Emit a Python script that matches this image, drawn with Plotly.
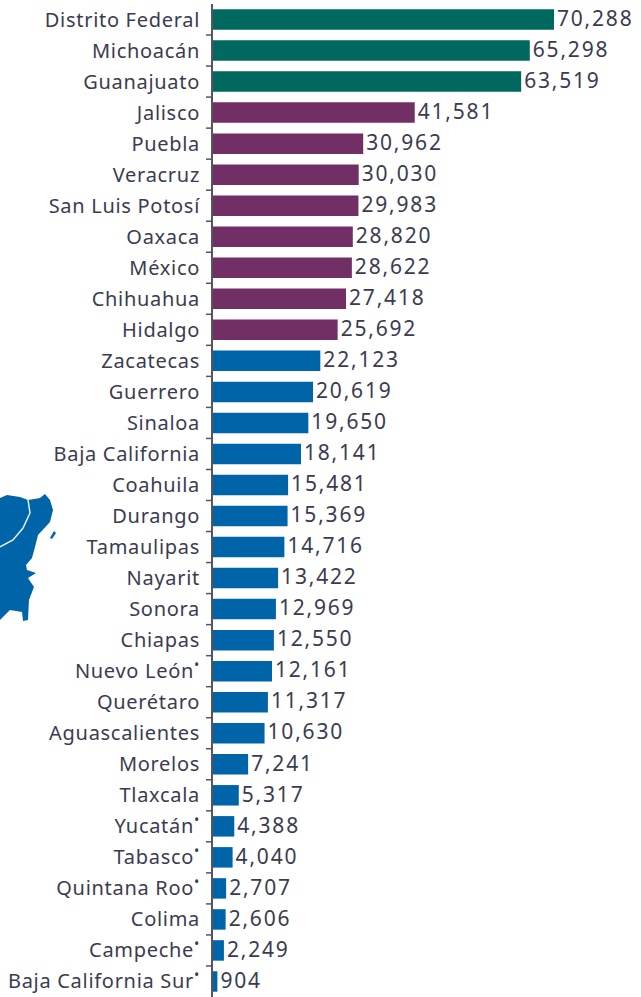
import plotly.graph_objects as go

W, H = 641, 997

states = ["Distrito Federal", "Michoacán", "Guanajuato", "Jalisco", "Puebla", "Veracruz",
          "San Luis Potosí", "Oaxaca", "México", "Chihuahua", "Hidalgo", "Zacatecas",
          "Guerrero", "Sinaloa", "Baja California", "Coahuila", "Durango", "Tamaulipas",
          "Nayarit", "Sonora", "Chiapas", "Nuevo León<sup>•</sup>", "Querétaro",
          "Aguascalientes", "Morelos", "Tlaxcala", "Yucatán<sup>•</sup>", "Tabasco<sup>•</sup>",
          "Quintana Roo<sup>•</sup>", "Colima", "Campeche<sup>•</sup>", "Baja California Sur<sup>•</sup>"]
values = [70288, 65298, 63519, 41581, 30962, 30030, 29983, 28820, 28622, 27418, 25692,
          22123, 20619, 19650, 18141, 15481, 15369, 14716, 13422, 12969, 12550, 12161,
          11317, 10630, 7241, 5317, 4388, 4040, 2707, 2606, 2249, 904]
GREEN, PURPLE, BLUE = "#00695f", "#722f66", "#0065a8"
colors = [GREEN] * 3 + [PURPLE] * 8 + [BLUE] * 21
rows = list(range(len(states)))
row_edges = [r + 0.5 for r in rows[:-1]]

TEXT = "#3b3b4f"
AXIS = "#55555f"

# decorative map fragment (pixel outline of the peninsula at the left edge)
map_outline = [(0, 498), (7, 495), (20, 497), (28, 500), (40, 498), (45, 494), (50, 500),
               (53, 510), (50, 522), (38, 535), (35, 547), (32, 558), (26, 565), (27, 570),
               (36, 573), (28, 578), (34, 587), (29, 600), (28, 620), (23, 621), (22, 612),
               (10, 610), (0, 620)]
map_island = [(50, 538), (54, 531), (56, 533), (52, 539)]
map_border = [(28, 500), (30, 513), (23, 528), (13, 540), (0, 547)]


def path(points, close=True):
    d = "M" + " L".join(f"{x / W:.4f},{1 - y / H:.4f}" for x, y in points)
    return d + (" Z" if close else "")


# tick marks between the rows, placed on the row axis
row_ticks = [
    dict(type="line", xref="paper", yref="y", x0=206 / W, x1=212 / W, y0=e, y1=e,
         line=dict(color=AXIS, width=1.5))
    for e in row_edges
]

fig = go.Figure()
fig.add_bar(
    x=values, y=rows, orientation="h", width=0.66,
    marker=dict(color=colors, line=dict(width=0)),
)
fig.add_scatter(
    x=values, y=rows, mode="text", text=[f"{v:,}" for v in values],
    textposition="middle right", cliponaxis=False, hoverinfo="skip",
    textfont=dict(family="Noto Sans", size=21, color=TEXT),
)

fig.update_layout(
    width=W, height=H, margin=dict(l=0, r=0, t=0, b=0),
    plot_bgcolor="white", paper_bgcolor="white", showlegend=False,
    font=dict(family="Noto Sans", color=TEXT),
    xaxis=dict(domain=[213 / W, 1], range=[0, 88220], visible=False),
    yaxis=dict(domain=[0, 1 - 4 / H], range=[31.5, -0.5], tickmode="array", tickvals=rows,
               ticktext=states, showgrid=False, zeroline=False, automargin=False,
               showline=True, linecolor=AXIS, linewidth=2,
               ticks="outside", ticklen=7, tickwidth=1, tickcolor="rgba(0,0,0,0)",
               tickfont=dict(family="Noto Sans", size=20, color=TEXT)),
    shapes=[
        dict(type="path", xref="paper", yref="paper", path=path(map_outline),
             fillcolor=BLUE, line=dict(width=0), layer="below"),
        dict(type="path", xref="paper", yref="paper", path=path(map_island),
             fillcolor=BLUE, line=dict(width=0), layer="below"),
        dict(type="path", xref="paper", yref="paper", path=path(map_border, close=False),
             fillcolor="rgba(0,0,0,0)", line=dict(color="#e6eff6", width=1.5), layer="below"),
    ] + row_ticks,
)

page_style = """
var s = document.createElement('style');
s.textContent = 'html,body{margin:0;padding:0;overflow:hidden}'
  + ' g.textpoint text{letter-spacing:1.8px;transform:translate(3px,1px)}'
  + ' g.ytick text{letter-spacing:0.7px}';
document.head.appendChild(s);
Plotly.redraw('{plot_id}');
"""
fig.write_html("out.html", post_script=page_style, config={"displayModeBar": False})
